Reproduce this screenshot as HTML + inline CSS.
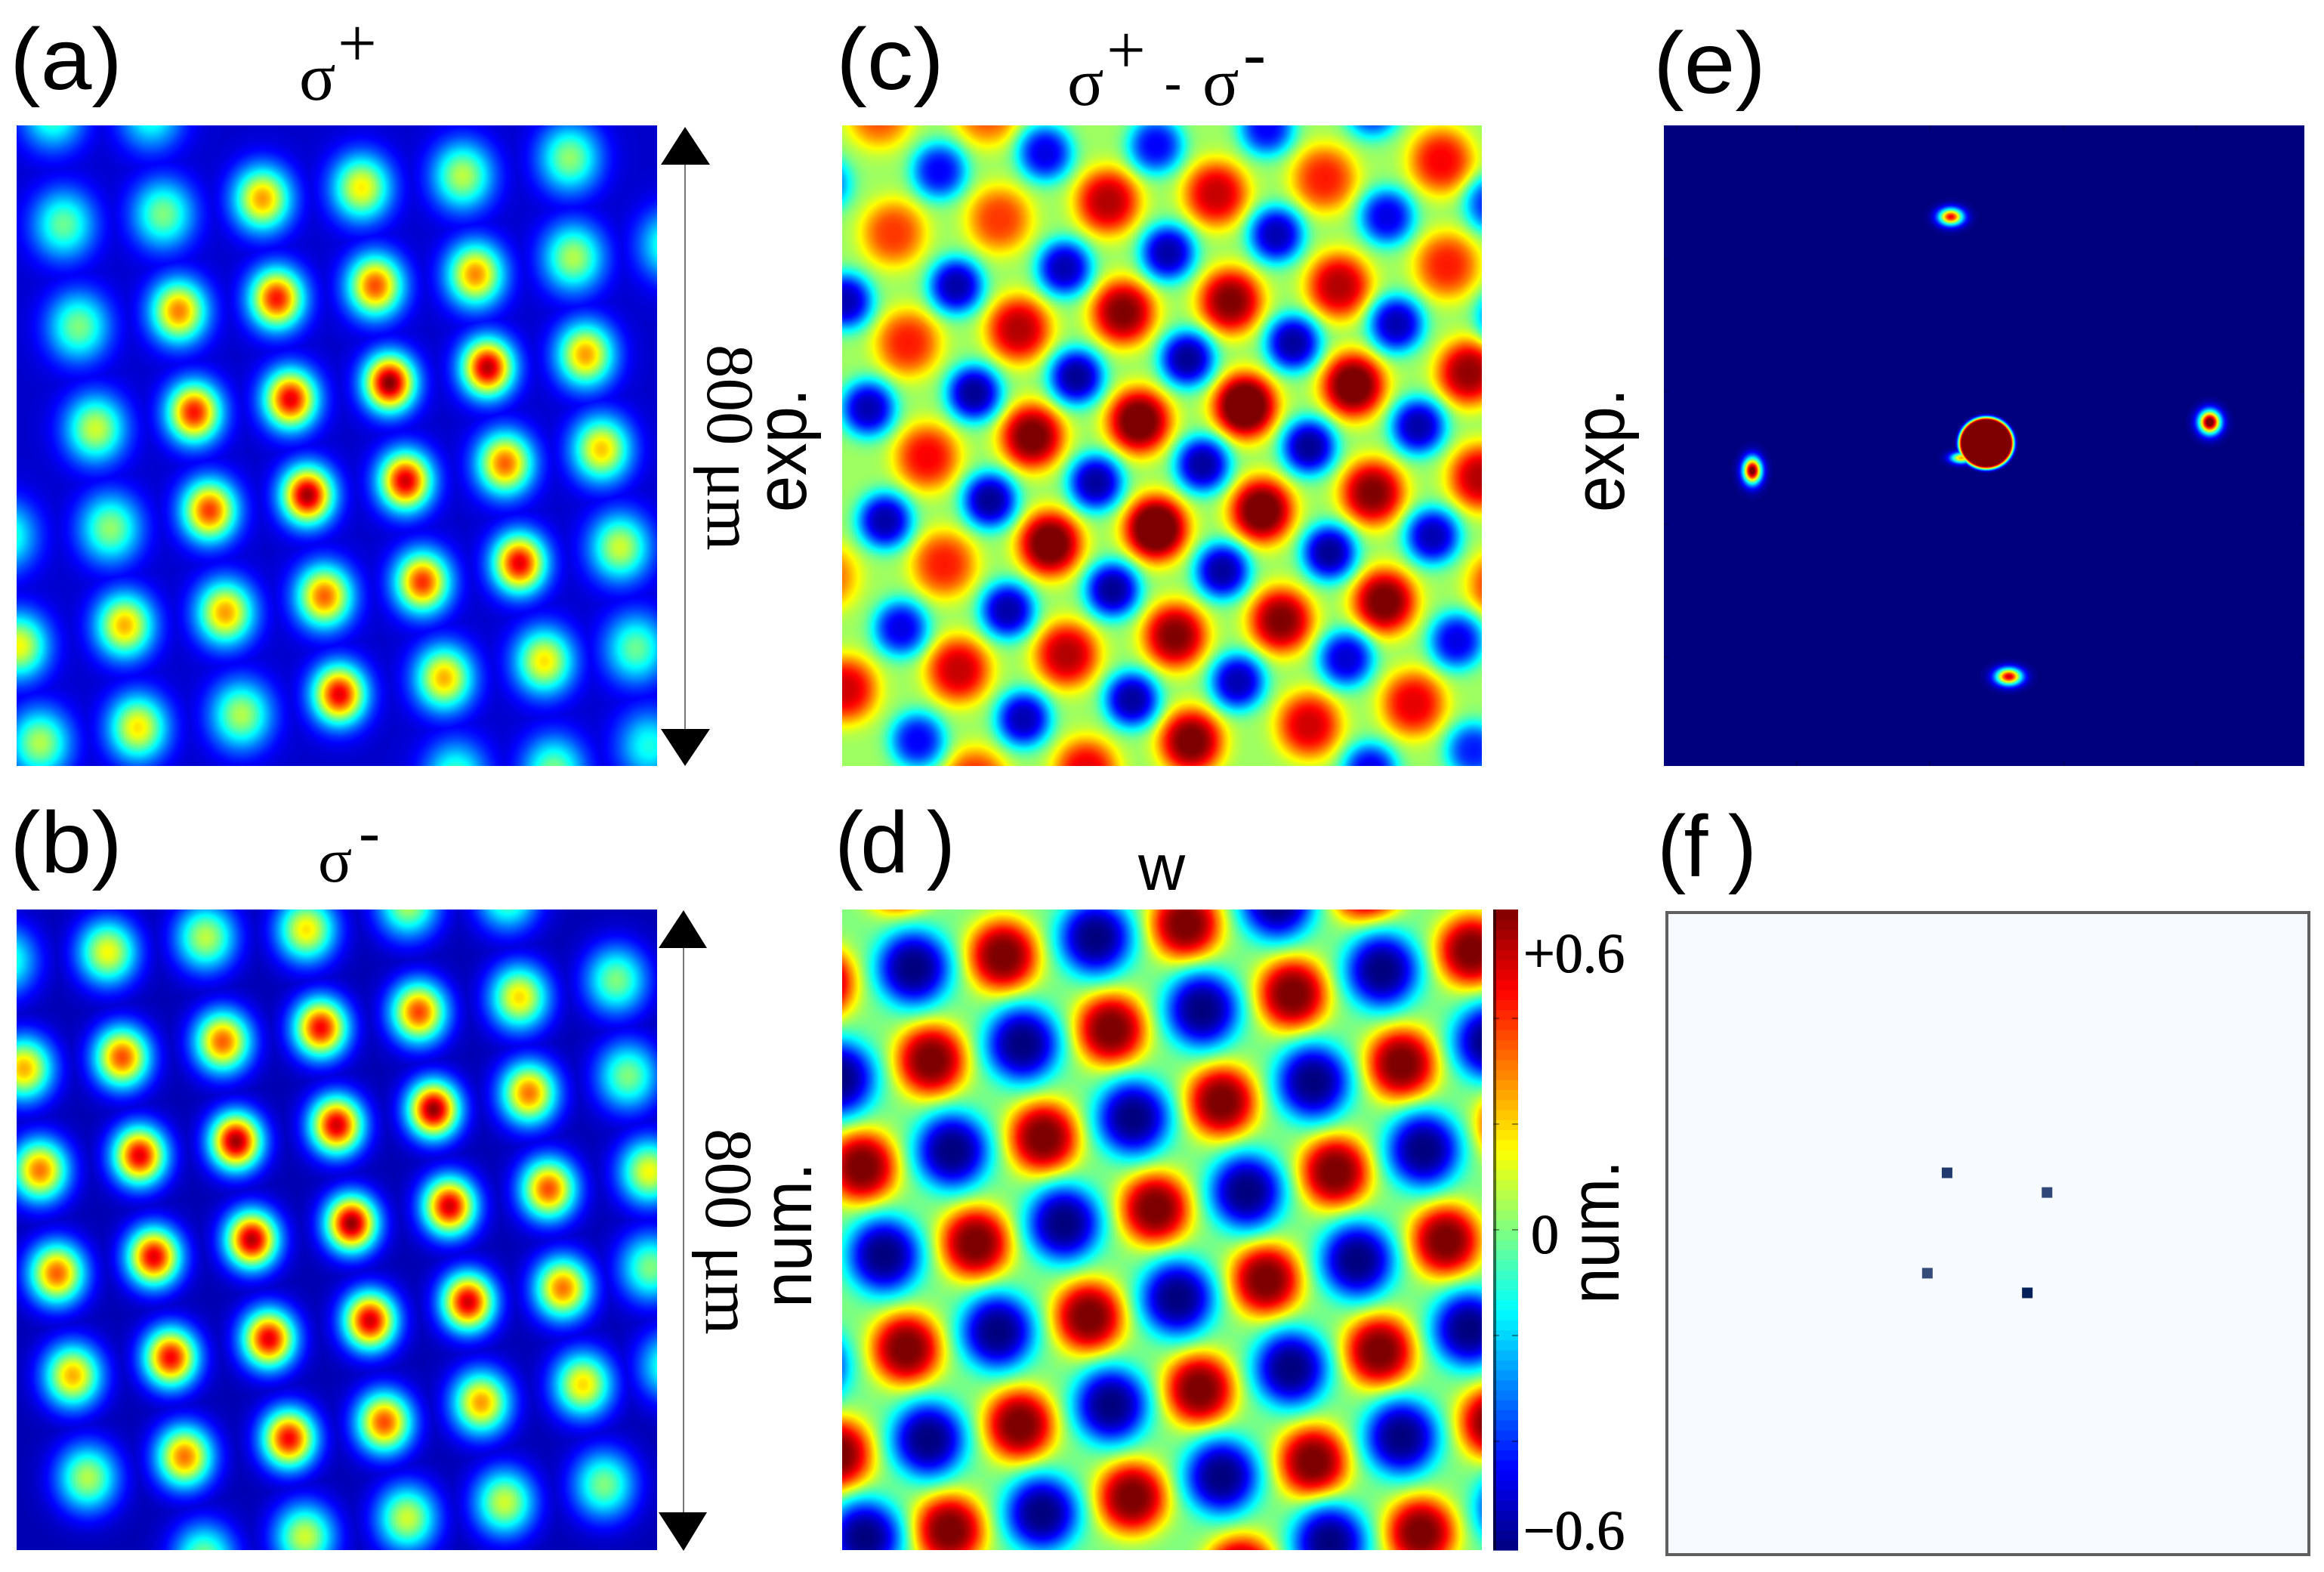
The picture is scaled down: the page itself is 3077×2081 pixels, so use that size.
<!DOCTYPE html>
<html lang="en">
<head>
<meta charset="utf-8">
<title>Hexagonal pattern figure</title>
<style>
html,body{margin:0;padding:0;background:#fff;}
svg{display:block;}
.sans{font-family:"Liberation Sans",sans-serif;fill:#000;}
.serif{font-family:"Liberation Serif",serif;fill:#000;}
</style>
</head>
<body>
<svg id="figure" xmlns="http://www.w3.org/2000/svg" width="3077" height="2081" viewBox="0 0 3077 2081">
  <defs id="defs">
    <clipPath id="clip-a"><rect x="22" y="166" width="848" height="848"/></clipPath>
    <clipPath id="clip-b"><rect x="22" y="1204" width="848" height="848"/></clipPath>
    <clipPath id="clip-c"><rect x="1115" y="166" width="847" height="848"/></clipPath>
    <clipPath id="clip-d"><rect x="1115" y="1204" width="847" height="848"/></clipPath>
    <clipPath id="clip-e"><rect x="2203" y="166" width="848" height="848"/></clipPath>
  </defs>
  <rect x="0" y="0" width="3077" height="2081" fill="#fff"/>

  <g clip-path="url(#clip-a)"><g id="panel-a"></g></g>
  <g clip-path="url(#clip-b)"><g id="panel-b"></g></g>
  <g clip-path="url(#clip-c)"><g id="panel-c"></g></g>
  <g clip-path="url(#clip-d)"><g id="panel-d"></g></g>
  <g clip-path="url(#clip-e)"><g id="panel-e"></g></g>
  <g id="panel-e-ticks"></g>
  <g id="panel-f"></g>
  <g id="colorbar"></g>

  <text class="sans" x="13" y="118" font-size="115" textLength="149" lengthAdjust="spacingAndGlyphs">(a)</text>
  <text class="sans" x="13" y="1155" font-size="115" textLength="149" lengthAdjust="spacingAndGlyphs">(b)</text>
  <text class="sans" x="1107" y="118" font-size="115" textLength="143" lengthAdjust="spacingAndGlyphs">(c)</text>
  <text class="sans" x="1105" y="1155" font-size="115" textLength="160" xml:space="preserve">(d )</text>
  <text class="sans" x="2189" y="123" font-size="115" textLength="149" lengthAdjust="spacingAndGlyphs">(e)</text>
  <text class="sans" x="2194" y="1160" font-size="115" textLength="132" xml:space="preserve">(f )</text>

  <g>
    <text class="serif" x="396" y="132" font-size="90">σ</text>
    <text class="serif" x="447" y="88" font-size="92">+</text>
  </g>
  <g>
    <text class="serif" x="421" y="1167" font-size="84">σ</text>
    <text class="serif" x="475" y="1129" font-size="84">-</text>
  </g>
  <g>
    <text class="serif" x="1413" y="139" font-size="90">σ</text>
    <text class="serif" x="1465" y="97" font-size="92">+</text>
    <text class="sans" x="1541" y="135" font-size="72">-</text>
    <text class="serif" x="1592" y="139" font-size="90">σ</text>
    <text class="serif" x="1646" y="101" font-size="90">-</text>
  </g>
  <text class="sans" x="1507" y="1178" font-size="86">w</text>

  <g>
    <line x1="907" y1="215" x2="907" y2="968" stroke="#777" stroke-width="2"/>
    <polygon points="907,168 875,218 940,218" fill="#000"/>
    <polygon points="907,1014 875,965 940,965" fill="#000"/>
  </g>
  <g>
    <line x1="905" y1="1252" x2="905" y2="2005" stroke="#777" stroke-width="2"/>
    <polygon points="905,1205 872,1255 936,1255" fill="#000"/>
    <polygon points="905,2053 872,2002 936,2002" fill="#000"/>
  </g>

  <text class="serif" font-size="89" transform="translate(937,456) rotate(90)">800 μm</text>
  <text class="serif" font-size="89" transform="translate(935,1494) rotate(90)">800 μm</text>

  <text class="sans" font-size="96" textLength="164" lengthAdjust="spacingAndGlyphs" transform="translate(1067,678) rotate(-90)">exp.</text>
  <text class="sans" font-size="92" textLength="192" lengthAdjust="spacingAndGlyphs" transform="translate(1074,1731) rotate(-90)">num.</text>
  <text class="sans" font-size="96" textLength="164" lengthAdjust="spacingAndGlyphs" transform="translate(2150,678) rotate(-90)">exp.</text>
  <text class="sans" font-size="92" textLength="190" lengthAdjust="spacingAndGlyphs" transform="translate(2143,1726) rotate(-90)">num.</text>
</svg>

<script>
// Panel (a) sigma+ intensity: spot centres and peak colour level
const aX = [100,285,120,308,495,682,873,1075,148,337,522,708,897,1082,1265,180,366,548,735,920,1105,10,208,395,580,765,953,1135,35,235,425,612,797,980,1170,75,260,455,640,838,1027,1200,1225,860,1045];
const aY = [225,225,440,420,390,368,345,310,640,610,585,560,538,505,480,840,808,782,750,720,695,1050,1035,1000,970,942,908,880,1265,1225,1200,1168,1140,1103,1072,1455,1425,1400,1360,1328,1295,1270,1460,1520,1510];
const aPeak = [.45,.42,.48,.5,.72,.64,.56,.52,.5,.75,.86,.8,.74,.55,.45,.58,.86,.9,1,.95,.72,.45,.52,.82,.97,.92,.78,.68,.62,.7,.72,.78,.83,.9,.58,.55,.65,.55,.9,.7,.65,.48,.4,.45,.5];

// Panel (b) sigma- intensity
const bX = [10,203,388,578,770,958,1163,980,790,605,420,230,45,1185,998,818,635,445,263,75,1225,1035,848,663,475,290,107,1228,1062,883,698,507,322,137,1265,1100,908,725,545,348,165,1140,952,768,575,385];
const bY = [325,308,278,262,210,195,365,400,430,462,490,522,545,560,595,628,660,693,722,752,755,790,825,860,893,928,962,950,992,1020,1058,1095,1133,1170,1150,1188,1225,1265,1298,1335,1378,1392,1428,1460,1498,1540];
const bPeak = [.45,.62,.56,.65,.55,.48,.5,.66,.81,.88,.78,.8,.7,.5,.76,.98,.92,.97,.9,.76,.62,.8,.92,.98,.95,.9,.78,.5,.76,.92,.92,.9,.88,.7,.45,.66,.72,.8,.88,.76,.55,.5,.58,.58,.58,.5];

// Panel (c) sigma+ minus sigma-
const cX = [115,340,590,815,1040,1283,145,365,622,845,1070,1295,175,405,875,1100,1340,655,433,215,1365,1140,910,690,470,250,5,1405,1165,950,730,505,280,45,1225,1008,763,545,315,240,460,690,920,1140,0,1170,940,1390,715,500,275,45,1190,975,755,525,312,92,1235,1008,787,565,345,127,1415,1265,1050,828,600,382,160,1315,1085,860,640,415,195,1135,1350];
const cY = [225,220,395,380,350,315,457,430,612,590,560,520,672,645,795,755,730,825,855,895,935,965,1000,1035,1065,1105,1130,1145,1178,1215,1245,1282,1312,1350,1378,1420,1452,1510,1530,335,300,285,250,215,360,425,460,400,495,525,560,590,635,672,703,738,770,800,835,875,910,945,980,1020,620,1050,1082,1118,1155,1195,1230,1255,1290,1335,1370,1408,1450,1510,1470];
const cPeak = [.8,.8,.95,.93,.85,.88,.82,.82,1,1,.95,.85,.85,.95,1.1,1.05,.98,1.05,1.02,.88,.95,1,1.05,1.1,1.05,.85,.78,.85,1.02,1,1,.95,.93,.92,.9,.92,1.02,.9,.85,.12,.1,.12,.12,.15,.2,.1,.05,.15,.04,.05,.04,.05,.05,.03,.02,.02,.02,.05,.04,.02,.03,.03,.02,.04,.15,.05,.02,.03,.02,.04,.1,.1,.08,.05,.03,.05,.12,.1,.15];

// Panel (d) numerical w field
const dX = [135,325,655,980,1172,-7,195,520,848,1045,720,398,70,1250,925,600,275,1125,800,480,150,1005,680,355,25,1212,885,558,228,1080,755,163,492,820,1010,685,360,28,885,560,233,1085,765,435,110,965,640,315,-25,1167,845,520,190,1045,720,395,75,915,1250,1205];
const dY = [150,315,250,170,305,370,528,465,393,535,612,685,745,660,755,830,900,895,975,1050,1115,1120,1198,1270,1330,1265,1345,1418,1485,1490,1570,340,278,205,345,425,495,565,572,645,712,710,795,860,925,935,1012,1080,1150,1075,1155,1230,1300,1295,1375,1450,1500,1510,1440,490];
const dW = [.62,.62,.62,.62,.62,.62,.62,.62,.62,.62,.62,.62,.62,.62,.62,.62,.62,.62,.62,.62,.62,.62,.62,.62,.62,.62,.62,.62,.62,.62,.62,-.62,-.62,-.62,-.62,-.62,-.62,-.62,-.62,-.62,-.62,-.62,-.62,-.62,-.62,-.62,-.62,-.62,-.62,-.62,-.62,-.62,-.62,-.62,-.62,-.62,-.62,-.62,-.62,-.62];

// Panel (e) experimental far field
const eX = [775,1325,353,898,850,797];
const eY = [425,827,922,1325,868,897];
const ePeak = [.88,1.1,1.05,.92,1.5,.7];
const eWidth = [16,14,12,17,36,14];
const eHeight = [11,15,17,11,34,7];
const ePower = [2,2,2,2,10,2];
const eXTicks = [447,730,1015,1297];
const eYTicks = [507,767,1027,1287];

// Panel (f) numerical far field
const fX = [767,980,725,938];
const fY = [757,797,961,1001];
const fPeak = [.88,.82,.8,1];

// Colour bar
const barTicks = [-.4,-.2,0,.2,.4];
const barLabels = ['+0.6','0','−0.6'];
const barLabelValues = [.6,0,-.6];
const barRange = [-.606,.606];

const SVGNS = 'http://www.w3.org/2000/svg';
const defs = document.getElementById('defs');
let gradientCount = 0;

function clamp01(v){return Math.max(0,Math.min(1,v));}
function jetChannels(v){
  v = clamp01(v);
  return [clamp01(1.5-Math.abs(4*v-3)),clamp01(1.5-Math.abs(4*v-2)),clamp01(1.5-Math.abs(4*v-1))];
}
function jet(v){
  const c = jetChannels(v);
  return 'rgb('+Math.round(c[0]*255)+','+Math.round(c[1]*255)+','+Math.round(c[2]*255)+')';
}
function gray(v){
  const n = Math.round(clamp01(v)*255);
  return 'rgb('+n+','+n+','+n+')';
}
function make(tag,attrs,parent){
  const el = document.createElementNS(SVGNS,tag);
  for(const k in attrs){el.setAttribute(k,attrs[k]);}
  if(parent){parent.appendChild(el);}
  return el;
}
function linear(d0,d1,r0,r1){return function(v){return r0+(v-d0)/(d1-d0)*(r1-r0);};}

// The field is painted in greyscale, then a table filter maps grey to the jet colours.
function jetFilter(id,box){
  const f = make('filter',{id:id,filterUnits:'userSpaceOnUse',x:box[0],y:box[1],width:box[2],height:box[3],'color-interpolation-filters':'sRGB'},defs);
  const tr = make('feComponentTransfer',{},f);
  const tables = [[],[],[]];
  for(let i=0;i<=128;i++){
    const c = jetChannels(i/128);
    tables[0].push(c[0].toFixed(4));
    tables[1].push(c[1].toFixed(4));
    tables[2].push(c[2].toFixed(4));
  }
  make('feFuncR',{type:'table',tableValues:tables[0].join(' ')},tr);
  make('feFuncG',{type:'table',tableValues:tables[1].join(' ')},tr);
  make('feFuncB',{type:'table',tableValues:tables[2].join(' ')},tr);
}

// Peaks above the base lighten the field; dips below it multiply it down (white edge = no effect).
function blobGradient(level,base,p){
  const id = 'blob-'+(gradientCount++);
  const gr = make('radialGradient',{id:id},defs);
  const N = 32;
  const k = Math.pow(5.52,1/p);
  const dip = level<base;
  const depth = dip ? Math.max(0,level)/base : 0;
  for(let i=0;i<=N;i++){
    const t = i/N;
    const g = i===N ? 0 : Math.exp(-Math.pow(t*k,p));
    const tone = dip ? 1+(depth-1)*g : base+(level-base)*g;
    make('stop',{offset:t,'stop-color':gray(tone)},gr);
  }
  return {id:id,k:k};
}

function drawField(cfg){
  const host = document.getElementById(cfg.host);
  const filterId = 'jet-'+cfg.host;
  jetFilter(filterId,[cfg.px[0],cfg.py[0],cfg.px[1]-cfg.px[0],cfg.py[1]-cfg.py[0]]);
  host.setAttribute('filter','url(#'+filterId+')');
  const bg = make('rect',{x:cfg.px[0],y:cfg.py[0],width:cfg.px[1]-cfg.px[0],height:cfg.py[1]-cfg.py[0],fill:gray(cfg.base)},host);
  
  
  const xs = linear(cfg.dx[0],cfg.dx[1],cfg.px[0],cfg.px[1]);
  const ys = linear(cfg.dy[0],cfg.dy[1],cfg.py[0],cfg.py[1]);
  cfg.x.forEach(function(xv,i){
    const level = cfg.levels[i];
    const sw = cfg.widths ? cfg.widths[i] : cfg.size(level);
    const sh = cfg.heights ? cfg.heights[i] : sw*cfg.aspect;
    const pw = cfg.powers ? cfg.powers[i] : cfg.p;
    const gr = blobGradient(level,cfg.base,pw);
    const el = make('ellipse',{
      cx:xs(xv),cy:ys(cfg.y[i]),rx:sw*gr.k,ry:sh*gr.k,fill:'url(#'+gr.id+')'
    },host);
    el.style.mixBlendMode = level>=cfg.base ? 'lighten' : 'multiply';
    
    
  });
}

const levelOfW = linear(barRange[0],barRange[1],0,1);

drawField({host:'panel-a',px:[22,870],py:[166,1014],dx:[31,1240],dy:[246,1500],x:aX,y:aY,levels:aPeak,base:.075,p:2,aspect:1.12,
  size:function(L){return 33*(1.45-.45*Math.min(1,L));}});
drawField({host:'panel-b',px:[22,870],py:[1204,2052],dx:[31,1240],dy:[221,1525],x:bX,y:bY,levels:bPeak,base:.05,p:2,aspect:1.1,
  size:function(L){return 33*(1.45-.45*Math.min(1,L));}});
drawField({host:'panel-c',px:[1115,1962],py:[166,1014],dx:[38,1367],dy:[246,1500],x:cX,y:cY,levels:cPeak,base:.53,p:3,aspect:1.03,
  size:function(L){return L<.5 ? 37 : 43;}});
drawField({host:'panel-d',px:[1115,1962],py:[1204,2052],dx:[34,1190],dy:[221,1525],x:dX,y:dY,levels:dW.map(levelOfW),base:.5,p:3,aspect:1.03,
  size:function(L){return L<.5 ? 50 : 48;}});
drawField({host:'panel-e',px:[2203,3051],py:[166,1014],dx:[165,1526],dy:[246,1500],x:eX,y:eY,levels:ePeak,base:0,p:2,aspect:1,
  widths:eWidth,heights:eHeight,powers:ePower});

// Panel (e) faint ticks
(function(){
  const host = document.getElementById('panel-e-ticks');
  const xs = linear(165,1526,2203,3051);
  const ys = linear(246,1500,166,1014);
  eXTicks.forEach(function(v){
    const top = make('line',{x1:xs(v),x2:xs(v),y1:166,y2:172,stroke:'#000060','stroke-width':2},host);
    
    
    const bottom = make('line',{x1:xs(v),x2:xs(v),y1:1008,y2:1014,stroke:'#000060','stroke-width':2},host);
    
    
  });
  eYTicks.forEach(function(v){
    const left = make('line',{x1:2203,x2:2209,y1:ys(v),y2:ys(v),stroke:'#000060','stroke-width':2},host);
    
    
    const right = make('line',{x1:3045,x2:3051,y1:ys(v),y2:ys(v),stroke:'#000060','stroke-width':2},host);
    
    
  });
})();

// Panel (f)
(function(){
  const host = document.getElementById('panel-f');
  const frame = make('rect',{x:2207,y:1208,width:850,height:850,fill:'#f7fbff',stroke:'#5f5f5f','stroke-width':4},host);
  
  
  const xs = linear(170,1538,2207,3057);
  const ys = linear(228,1533,1208,2058);
  const low = [247,251,255];
  const high = [4,32,90];
  fX.forEach(function(xv,i){
    const p = fPeak[i];
    const c = low.map(function(l,j){return Math.round(l+(high[j]-l)*p);});
    const el = make('rect',{x:xs(xv)-7,y:ys(fY[i])-7,width:14,height:14,fill:'rgb('+c.join(',')+')'},host);
    
    
  });
})();

// Colour bar
(function(){
  const host = document.getElementById('colorbar');
  const top = 1204, bottom = 2052, left = 1977, right = 2010;
  const ys = linear(barRange[0],barRange[1],bottom,top);
  const steps = 64;
  for(let i=0;i<steps;i++){
    const lo = barRange[0]+(barRange[1]-barRange[0])*i/steps;
    const hi = barRange[0]+(barRange[1]-barRange[0])*(i+1)/steps;
    const el = make('rect',{x:left,y:ys(hi),width:right-left,height:ys(lo)-ys(hi)+.6,fill:jet((i+.5)/steps)},host);
    
    
  }
  const edge = make('rect',{x:left,y:top,width:4,height:bottom-top,fill:'#000',opacity:.55},host);
  
  
  barTicks.forEach(function(v){
    const a = make('line',{x1:left,x2:left+8,y1:ys(v),y2:ys(v),stroke:'#000','stroke-opacity':.4,'stroke-width':2},host);
    
    
    const b = make('line',{x1:right-8,x2:right,y1:ys(v),y2:ys(v),stroke:'#000','stroke-opacity':.4,'stroke-width':2},host);
    
    
  });
  const labelBase = {'0.6':1287,'0':1659,'-0.6':2051};
  barLabels.forEach(function(txt,i){
    const v = barLabelValues[i];
    const key = String(v);
    const t = make('text',{x:v===0?2027:2017,y:labelBase[key],'font-size':74,'class':'serif',stroke:'#000','stroke-width':1},host);
    t.textContent = txt;
    
    
  });
})();
</script>
</body>
</html>
